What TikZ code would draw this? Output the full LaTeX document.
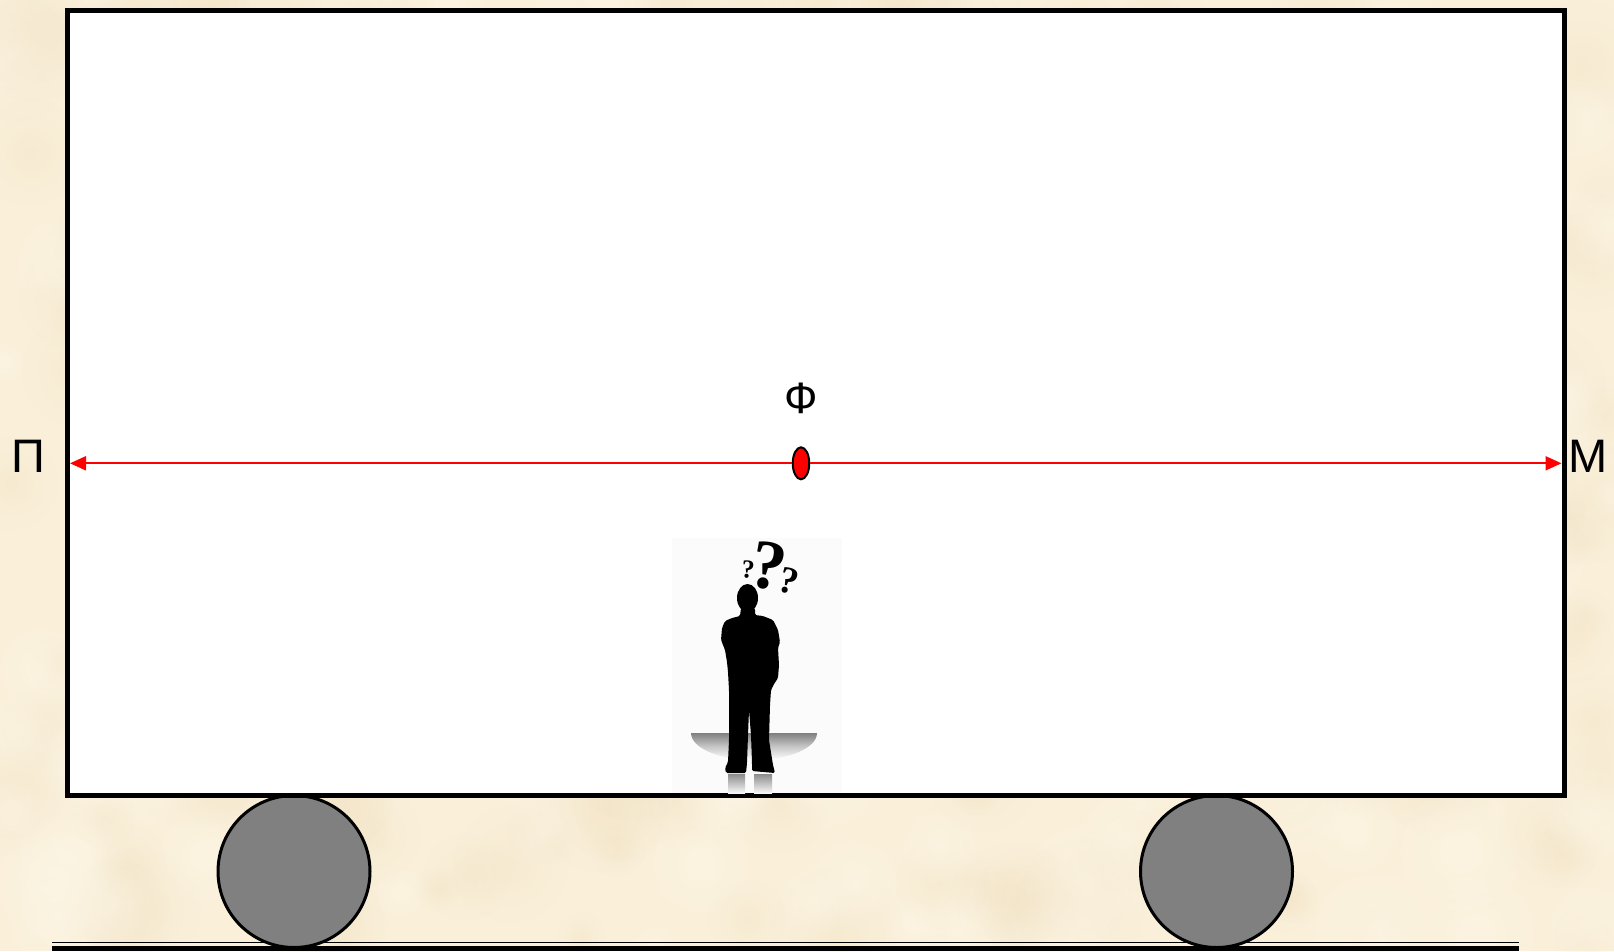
\documentclass[tikz,border=0pt]{standalone}
\usepackage{fontspec}
\setmainfont{Liberation Sans}
\newfontfamily\qfont{Liberation Serif}
\usetikzlibrary{arrows.meta,shapes.geometric,fadings}

\definecolor{parchment}{RGB}{250,240,218}
\definecolor{parchdark}{RGB}{240,224,192}
\definecolor{parchlight}{RGB}{254,248,234}
\definecolor{wheelgray}{RGB}{128,128,128}
\definecolor{pure red}{RGB}{255,0,0}

% soft radial blob used for the paper texture
\tikzfading[name=softblob, inner color=transparent!0, outer color=transparent!100]

\tikzset{
  carbody/.style={draw=black, fill=white, line width=5pt, rectangle,
    inner sep=0pt, outer sep=0pt},
  wheel/.style={draw=black, fill=wheelgray, line width=3pt, circle,
    minimum size=152pt, inner sep=0pt, outer sep=0pt},
  label/.style={font=\fontsize{47}{50}\selectfont, inner sep=0pt},
  redline/.style={draw=pure red, line width=2pt,
    -{Triangle[length=16pt,width=14pt]}, shorten >=2.5pt},
  marker/.style={ellipse, draw=black, fill=pure red, line width=2pt,
    minimum width=16.5pt, minimum height=32pt, inner sep=0pt},
  qmark/.style={inner sep=0pt, text=black},
}

\begin{document}
\begin{tikzpicture}[x=1pt, y=-1pt]
  \useasboundingbox (0,0) rectangle (1614,951);

  % parchment background
  \fill[parchment] (0,0) rectangle (1614,951);
  \pgfmathsetseed{42}
  \foreach \i in {1,...,260}{
    \pgfmathsetmacro\px{rnd*1614}
    \pgfmathsetmacro\py{rnd*951}
    \pgfmathsetmacro\rr{20+rnd*50}
    \fill[parchdark, opacity=0.35, path fading=softblob]
      (\px,\py) circle[radius=\rr];
  }
  \foreach \i in {1,...,160}{
    \pgfmathsetmacro\px{rnd*1614}
    \pgfmathsetmacro\py{rnd*951}
    \pgfmathsetmacro\rr{20+rnd*50}
    \fill[parchlight, opacity=0.45, path fading=softblob]
      (\px,\py) circle[radius=\rr];
  }

  % rails
  \draw[line width=1.5pt] (52,942.3) -- (1519,942.3);
  \fill[black] (52,946) rectangle (1519,951);

  % wheels
  \node[wheel] (wl) at (294,871.5) {};
  \node[wheel] (wr) at (1216.5,871.5) {};

  % car body
  \node[carbody, minimum width=1496.5pt, minimum height=785pt]
    (car) at (815.75,402.5) {};

  % observer backdrop
  \fill[black!1.5] (672,538) rectangle (842,793);

  % floor shadow under the observer
  \shade[top color=black!50, bottom color=white, middle color=black!22]
    (691,733) arc[start angle=180, end angle=0, x radius=63, y radius=27] -- cycle;
  % reflection of the legs
  \shade[top color=black!45, bottom color=black!3] (728,774) rectangle (745,793);
  \shade[top color=black!45, bottom color=black!3] (754,774) rectangle (772,793);

  % observer silhouette
  \fill[black] (747.5,598) ellipse[x radius=10.5, y radius=14];
  \fill[black, rounded corners=1.5pt]
    (741,608) -- (740,616) -- (732,618) -- (725,621) -- (722,628) -- (721,640)
    -- (725,650) -- (727,662) -- (728,672) -- (729,690) -- (729,705)
    -- (729,740) -- (728,762) -- (725,768) -- (726,773) -- (746,773)
    -- (747,763) -- (748,735) -- (749,710) -- (751,735) -- (752,763)
    -- (752,771) -- (775,773) -- (773,765) -- (769,740) -- (770,705)
    -- (771,690) -- (774,684) -- (778,678) -- (779,665) -- (778,648)
    -- (780,642) -- (778,630) -- (773,620) -- (763,616) -- (755,615)
    -- (755,608) -- cycle;

  % question marks above the head
  \node[qmark, font=\qfont\bfseries\fontsize{70}{72}\selectfont, rotate=-10]
    (q1) at (769,566) {?};
  \node[qmark, font=\qfont\bfseries\fontsize{26}{28}\selectfont, rotate=-5]
    (q2) at (748,570) {?};
  \node[qmark, font=\qfont\bfseries\fontsize{38}{40}\selectfont, rotate=-15]
    (q3) at (789,581) {?};

  % light signal source and the two wavefront directions
  \node[marker] (F) at (801,463.3) {};
  \draw[redline] (F) -- (car.west |- F);
  \draw[redline] (F) -- (car.east |- F);

  % labels
  \node[label, font=\fontsize{44}{46}\selectfont] (phi) at (801.7,398.5) {Ф};
  \node[label] (front) at (28.5,456) {П};
  \node[label] (back) at (1588,456) {М};
\end{tikzpicture}
\end{document}
